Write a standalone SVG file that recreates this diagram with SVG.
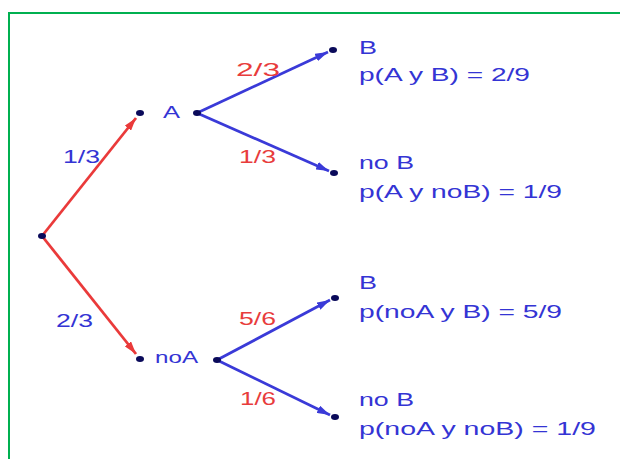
<svg xmlns="http://www.w3.org/2000/svg" width="620" height="459" viewBox="0 0 620 459">
<defs>
<style>
.t{font-family:"Liberation Sans",Arial,sans-serif;fill:#3434d4}
.r{fill:#e83c3c}
.out{font-size:18.5px}
.lbl{font-size:18px}
.node{font-size:17px}
.dot{fill:#0a0a5a}
.er{stroke:#ea3a3a;stroke-width:2.8;fill:none}
.eb{stroke:#3a3ad8;stroke-width:2.8;fill:none}
</style>
<marker id="ar" viewBox="0 0 13 8" refX="13" refY="4" markerWidth="13" markerHeight="8" markerUnits="userSpaceOnUse" orient="auto">
<path d="M0,0 L13,4 L0,8 Z" fill="#ea3a3a"/>
</marker>
<marker id="ab" viewBox="0 0 13 8" refX="13" refY="4" markerWidth="13" markerHeight="8" markerUnits="userSpaceOnUse" orient="auto">
<path d="M0,0 L13,4 L0,8 Z" fill="#3a3ad8"/>
</marker>
</defs>
<rect x="0" y="0" width="620" height="459" fill="#ffffff"/>
<g id="frame">
<line x1="8" y1="13" x2="620" y2="13" stroke="#00b050" stroke-width="2"/>
<line x1="9" y1="12" x2="9" y2="459" stroke="#00b050" stroke-width="2"/>
</g>
<g id="connectors">
<line class="er" x1="42" y1="236" x2="136" y2="118" marker-end="url(#ar)"/>
<line class="er" x1="42" y1="236" x2="136" y2="354" marker-end="url(#ar)"/>
<line class="eb" x1="197" y1="113" x2="328" y2="52" marker-end="url(#ab)"/>
<line class="eb" x1="197" y1="113" x2="329" y2="171" marker-end="url(#ab)"/>
<line class="eb" x1="217" y1="360" x2="330" y2="300" marker-end="url(#ab)"/>
<line class="eb" x1="217" y1="360" x2="330" y2="415" marker-end="url(#ab)"/>
<text class="t lbl" x="63" y="163" textLength="37" lengthAdjust="spacingAndGlyphs">1/3</text>
<text class="t lbl" x="56" y="327" textLength="37" lengthAdjust="spacingAndGlyphs">2/3</text>
<text class="t r lbl" x="236" y="76" textLength="44" lengthAdjust="spacingAndGlyphs">2/3</text>
<text class="t r lbl" x="239" y="163" textLength="37" lengthAdjust="spacingAndGlyphs">1/3</text>
<text class="t r lbl" x="239" y="325" textLength="37" lengthAdjust="spacingAndGlyphs">5/6</text>
<text class="t r lbl" x="240" y="405" textLength="36" lengthAdjust="spacingAndGlyphs">1/6</text>
</g>
<g id="root">
<ellipse class="dot" cx="42" cy="236" rx="4" ry="3"/>
</g>
<g id="nodeA">
<ellipse class="dot" cx="140" cy="113" rx="4" ry="3"/>
<text class="t node" x="163" y="118" textLength="17" lengthAdjust="spacingAndGlyphs">A</text>
<ellipse class="dot" cx="197" cy="113" rx="4" ry="3"/>
</g>
<g id="nodeNoA">
<ellipse class="dot" cx="140" cy="359" rx="4" ry="3"/>
<text class="t node" x="155" y="363" textLength="43" lengthAdjust="spacingAndGlyphs">noA</text>
<ellipse class="dot" cx="217" cy="360" rx="4" ry="3"/>
</g>
<g id="leafAB">
<ellipse class="dot" cx="333" cy="50" rx="4" ry="3"/>
<text class="t out" x="359" y="54" textLength="18" lengthAdjust="spacingAndGlyphs">B</text>
<text class="t out" x="359" y="81" textLength="171" lengthAdjust="spacingAndGlyphs">p(A y B) = 2/9</text>
</g>
<g id="leafANoB">
<ellipse class="dot" cx="334" cy="173" rx="4" ry="3"/>
<text class="t out" x="359" y="169" textLength="55" lengthAdjust="spacingAndGlyphs">no B</text>
<text class="t out" x="359" y="198" textLength="203" lengthAdjust="spacingAndGlyphs">p(A y noB) = 1/9</text>
</g>
<g id="leafNoAB">
<ellipse class="dot" cx="335" cy="298" rx="4" ry="3"/>
<text class="t out" x="359" y="289" textLength="18" lengthAdjust="spacingAndGlyphs">B</text>
<text class="t out" x="359" y="318" textLength="203" lengthAdjust="spacingAndGlyphs">p(noA y B) = 5/9</text>
</g>
<g id="leafNoANoB">
<ellipse class="dot" cx="335" cy="417" rx="4" ry="3"/>
<text class="t out" x="359" y="406" textLength="55" lengthAdjust="spacingAndGlyphs">no B</text>
<text class="t out" x="359" y="435" textLength="237" lengthAdjust="spacingAndGlyphs">p(noA y noB) = 1/9</text>
</g>
</svg>
